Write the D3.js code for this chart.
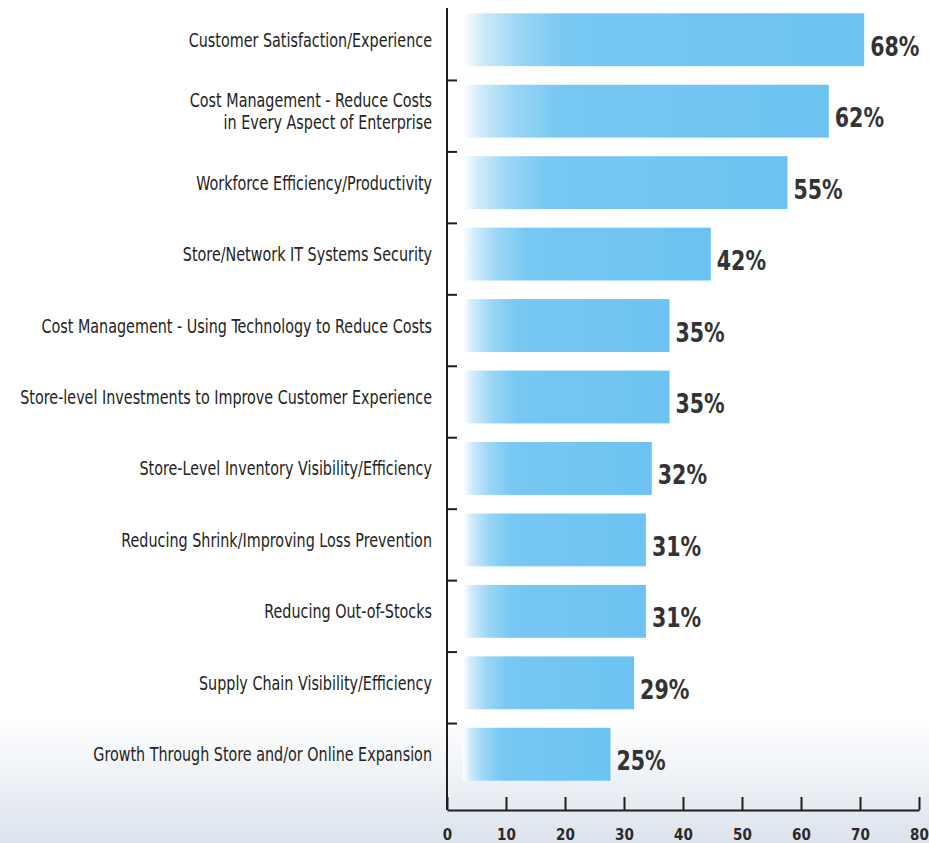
<!DOCTYPE html>
<html>
<head>
<meta charset="utf-8">
<script src="https://cdn.jsdelivr.net/npm/d3@7/dist/d3.min.js"></script>
<style>
  html, body { margin: 0; padding: 0; background: #ffffff; }
  svg { display: block; }
  .cat { font-family: "Liberation Sans Narrow", "DejaVu Sans Condensed", sans-serif; font-size: 19px; fill: #232323; }
  .val { font-family: "Liberation Sans Narrow", "DejaVu Sans Condensed", sans-serif; font-size: 26px; font-weight: bold; fill: #333333; }
  .xaxis text { font-family: "DejaVu Sans Condensed", sans-serif; font-size: 15px; font-weight: bold; fill: #2a2a2a; }
</style>
</head>
<body>
<svg id="chart" width="929" height="843"></svg>
<script>
// Survey priorities, share of respondents (%)
const categories = [
  "Customer Satisfaction/Experience",
  "Cost Management - Reduce Costs\nin Every Aspect of Enterprise",
  "Workforce Efficiency/Productivity",
  "Store/Network IT Systems Security",
  "Cost Management - Using Technology to Reduce Costs",
  "Store-level Investments to Improve Customer Experience",
  "Store-Level Inventory Visibility/Efficiency",
  "Reducing Shrink/Improving Loss Prevention",
  "Reducing Out-of-Stocks",
  "Supply Chain Visibility/Efficiency",
  "Growth Through Store and/or Online Expansion"
];
const values = [68, 62, 55, 42, 35, 35, 32, 31, 31, 29, 25];
const xTickValues = [0, 10, 20, 30, 40, 50, 60, 70, 80];

const W = 929, H = 843;
const svg = d3.select("#chart");
const defs = svg.append("defs");

// pale blue-grey haze along the bottom of the panel
const bg = defs.append("linearGradient").attr("id", "bgFade")
  .attr("x1", 0).attr("y1", 0).attr("x2", 0).attr("y2", 1);
bg.append("stop").attr("offset", "0").attr("stop-color", "#ffffff");
bg.append("stop").attr("offset", "0.85").attr("stop-color", "#ffffff");
bg.append("stop").attr("offset", "1").attr("stop-color", "#dce3ec");
svg.append("rect").attr("width", W).attr("height", H).attr("fill", "url(#bgFade)");

// bars fade in from white at their left end
const barGrad = defs.append("linearGradient").attr("id", "barFill")
  .attr("x1", 0).attr("y1", 0).attr("x2", 1).attr("y2", 0);
[[0, "#ffffff"], [0.05, "#cdeafa"], [0.14, "#9ad6f6"], [0.26, "#77c8f2"], [1, "#6cc3f1"]]
  .forEach(([o, c]) => barGrad.append("stop").attr("offset", o).attr("stop-color", c));

const x = d3.scaleLinear().domain([0, 80]).range([447, 919]);
const y = d3.scaleBand().domain(categories).range([4, 790])
  .paddingInner(0.26).paddingOuter(0.13);
const barInset = 16;          // bars start a little to the right of the axis
const axisBottom = 810;
const labelRight = 432;
const catSqueeze = 0.84;      // narrow the label face horizontally
const valSqueeze = 0.88;

// bars
svg.append("g").selectAll("rect")
  .data(values)
  .join("rect")
  .attr("x", x(0) + barInset)
  .attr("y", (d, i) => y(categories[i]))
  .attr("width", d => x(d) - x(0))
  .attr("height", y.bandwidth())
  .attr("fill", "url(#barFill)");

// value labels
svg.append("g").selectAll("text")
  .data(values)
  .join("text")
  .attr("class", "val")
  .attr("transform", (d, i) =>
    `translate(${x(d) + barInset + 6},${y(categories[i]) + y.bandwidth() / 2 + 16}) scale(${valSqueeze},1)`)
  .text(d => d + "%");

// category labels, right aligned against the axis
const labels = svg.append("g").selectAll("text")
  .data(categories)
  .join("text")
  .attr("class", "cat")
  .attr("text-anchor", "end")
  .attr("transform", d => {
    const n = d.split("\n").length;
    const ty = y(d) + y.bandwidth() / 2 + 7 - (n - 1) * 11;
    return `translate(${labelRight},${ty}) scale(${catSqueeze},1)`;
  });
labels.selectAll("tspan")
  .data(d => d.split("\n"))
  .join("tspan")
  .attr("x", 0)
  .attr("dy", (d, i) => i === 0 ? 0 : 22)
  .text(d => d);

// vertical axis with ticks between the bars
svg.append("line")
  .attr("x1", x(0)).attr("x2", x(0))
  .attr("y1", 8).attr("y2", axisBottom)
  .attr("stroke", "#1e1e1e").attr("stroke-width", 2);
const gap = y.step() * y.paddingInner();
svg.append("g").selectAll("line")
  .data(categories.slice(1))
  .join("line")
  .attr("x1", x(0)).attr("x2", x(0) + 10)
  .attr("y1", d => y(d) - gap / 2 + 5)
  .attr("y2", d => y(d) - gap / 2 + 5)
  .attr("stroke", "#1e1e1e").attr("stroke-width", 2);

// horizontal axis, ticks pointing up
const xAxis = svg.append("g")
  .attr("class", "xaxis")
  .attr("transform", `translate(0,${axisBottom})`)
  .call(d3.axisBottom(x).tickValues(xTickValues).tickSizeInner(-13).tickSizeOuter(0).tickPadding(16));
xAxis.select(".domain").attr("stroke", "#1e1e1e").attr("stroke-width", 2);
xAxis.selectAll(".tick line").attr("stroke", "#1e1e1e").attr("stroke-width", 2);
xAxis.selectAll(".tick text").attr("dy", "0.9em");
</script>
</body>
</html>
